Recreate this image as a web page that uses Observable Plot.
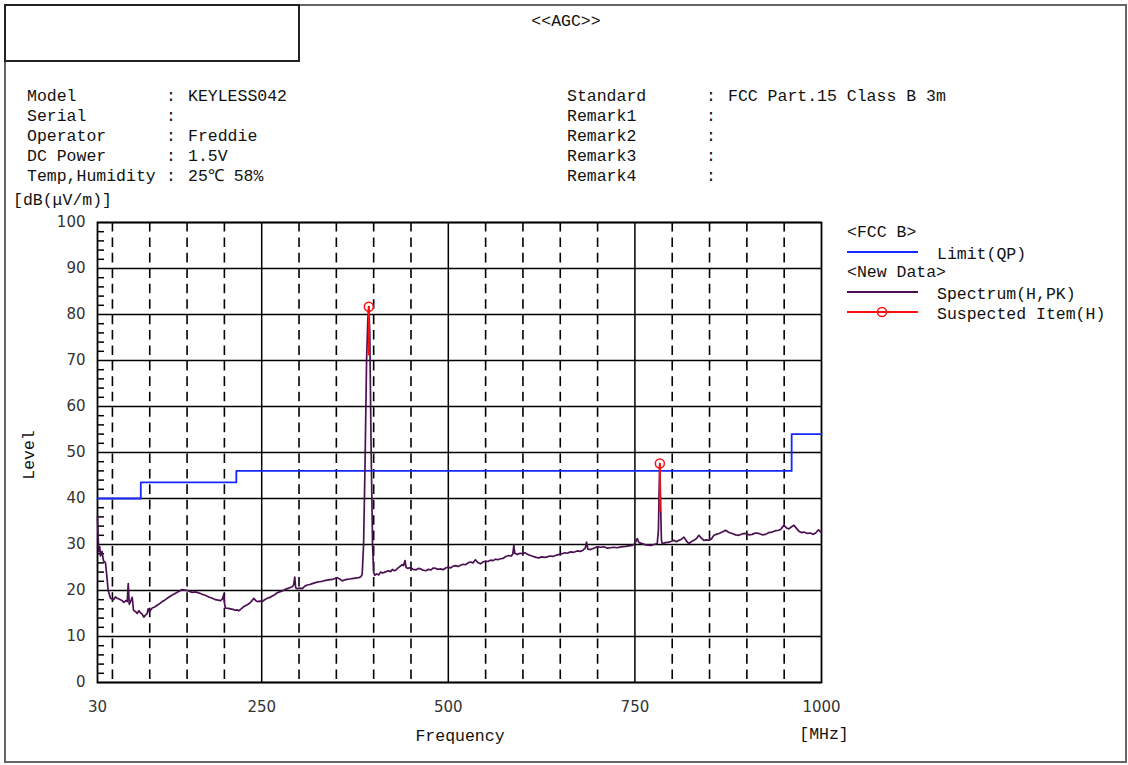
<!DOCTYPE html>
<html><head><meta charset="utf-8">
<script src="https://cdn.jsdelivr.net/npm/d3@7"></script>
<script src="https://cdn.jsdelivr.net/npm/@observablehq/plot@0.6"></script>
<style>
body{margin:0;background:#fff;}
#page{position:relative;width:1128px;height:765px;overflow:hidden;font-family:"Liberation Mono",monospace;font-size:16.5px;color:#111;}
.t{position:absolute;white-space:pre;line-height:20px;}
#chart{position:absolute;left:0;top:0;}
#outer{position:absolute;left:4px;top:4px;width:1119px;height:755px;border:2px solid #666;}
#box{position:absolute;left:4px;top:4px;width:292px;height:54px;border:2px solid #222;}
</style></head>
<body><div id="page">
<div id="chart"></div>
<div id="outer"></div>
<div id="box"></div>
<div id="texts"></div>
<svg id="legend" style="position:absolute;left:0;top:0" width="1128" height="765"></svg>
</div>
<script>
// ---------- data ----------
const infoLeftLabels = ["Model", "Serial", "Operator", "DC Power", "Temp,Humidity"];
const infoLeftValues = ["KEYLESS042", "", "Freddie", "1.5V", "25℃ 58%"];
const infoRightLabels = ["Standard", "Remark1", "Remark2", "Remark3", "Remark4"];
const infoRightValues = ["FCC Part.15 Class B 3m", "", "", "", ""];

const xTicks = [30, 250, 500, 750, 1000];
const yTicks = [0, 10, 20, 30, 40, 50, 60, 70, 80, 90, 100];
const xGridDashed = [50, 100, 150, 200, 300, 350, 400, 450, 550, 600, 650, 700, 800, 850, 900, 950];
const xGridSolid = [250, 500, 750];
const yMinor = [2,4,6,8,12,14,16,18,22,24,26,28,32,34,36,38,42,44,46,48,52,54,56,58,62,64,66,68,72,74,76,78,82,84,86,88,92,94,96,98];

// FCC Class B limit (QP), step after each break
const limitF = [30, 88, 216, 960, 1000];
const limitV = [40, 43.5, 46, 54, 54];

// Spectrum (H, PK)
const specF = [30,31,31.7,33,34,36,38,40.7,42,44.3,47.4,51.4,54,56.4,60.8,63,65.2,68,69.8,71.2,72.5,74.2,76.5,78.2,81,83.2,85.5,87.6,90,92,94,96.6,97.8,99.5,103.3,106.5,110,113,116.7,120,123.4,127,130.1,133.5,136.8,140,143.5,147,150.2,153.5,156.9,160,163.6,167,170.3,175,179.1,184,188.1,191.5,194.8,197.5,199.2,200.3,201.5,205,208.2,211.5,214.9,217,219.3,222.5,226,229.5,232.7,236,239.4,242,244,247.5,250.7,254,257.4,261,264.1,267.5,270.8,274,277.5,281,284.2,287.5,290.9,292.8,294.3,295.5,297.6,301,304.3,307.5,311,314.5,317.7,322,326.5,331,335.5,340,344.5,348,351.2,354.5,357.9,361,364.6,368,371.2,375.5,380.1,383,384.6,386.5,388.5,390.5,392.2,393.5,394.8,396.5,398.5,400,401.5,404,407,409.2,412,415,418,420,423,425,427.5,429.3,432,435,438,440,442,443.5,446,449.4,453,457,460,463,466.5,470,473.5,477,480,483,486.5,489.6,493,496.5,500,503,506.5,510,513,516.4,520,523,526.5,529.8,533,536.4,539.5,543.1,546.5,550,553,556.5,560,563,566.5,569.9,573.5,577,581,584.5,586.5,587.8,589,592.5,596,599,602.5,606,610.1,614,617.5,621.3,625,629,632.5,636,640,643.6,647.5,652.6,656,659.5,663.7,668,672.7,676.5,680,683.5,685.2,687,690.5,695,699.5,704,708.4,713,717.3,721.5,726.3,731.5,737.4,742,746.4,750,753.1,755.5,759.8,765,771,775.5,779.9,781.5,782.5,783.4,784.3,785.5,786.6,791,795.5,799,802.2,805.5,808.9,812,815.6,819,822.3,825.5,829,832.5,835.7,839,842.4,846,849.1,852.5,855.8,859,862.6,867,871.5,876,880.4,885,889.3,893.5,898.3,902.5,907.2,911.5,916.1,920.5,925.1,929.5,934,938.5,942.9,946,949.5,953,956.3,959.5,963,966.5,969.7,973,976.4,981,985.4,988.5,992.1,996,1000];
const specV = [36,31,28.5,29.5,27.5,28.5,26.5,26,24,20,18.3,18,18.6,18.3,18,17.8,17.4,17.8,17.6,21.5,17,17.6,18.5,15.7,15.4,15,15.6,15.2,14.8,14.2,14.6,15,16,15.4,16.2,16.4,16.8,17.1,17.6,17.9,18.3,18.7,19,19.3,19.6,19.9,20.2,20.1,20,19.8,19.6,19.7,19.6,19.4,19.2,18.9,18.6,18.3,18,17.9,17.8,18.2,19.2,17,16.2,16.1,16,15.9,15.7,15.8,15.6,16,16.5,16.8,17.1,17.6,18.3,17.8,17.6,17.7,17.6,18,18.3,18.5,18.8,19.1,19.5,19.7,19.9,20.2,20.4,20.6,20.8,21.2,22.9,20.6,20.4,20.5,20.4,20.9,21.2,21.3,21.5,21.7,21.9,22,22.2,22.3,22.4,22.6,22.8,22.5,22.1,22.3,22.4,22.5,22.6,22.7,22.8,23,23.5,30,48,70,79,81.7,76,52,30,24,23.3,23.6,23.4,24,23.8,24,24.2,24.3,24.1,24.6,24.3,24.4,24.8,25.2,25.6,25.4,26.5,25,24.8,25,24.6,24.5,24.8,24.7,24.4,24.3,24.6,24.5,24.9,24.8,24.6,24.7,24.5,24.9,25.1,24.9,25.3,25.4,25.2,25.5,25.7,25.6,26,26.2,26,26.7,26.1,25.8,26.2,26.4,26.3,26.6,26.5,26.8,26.7,26.9,27,27.4,27.6,27.5,28,29.8,28.1,27.8,28.1,28,28.2,27.9,27.6,27.4,27.2,27.1,27.3,27.2,27.3,27.5,27.4,27.6,27.8,28,28.2,28.1,28.4,28.3,28.6,28.5,28.7,29.2,30.5,29,28.9,29.2,29.5,29.4,29.5,29.2,29.3,29.4,29.3,29.5,29.6,29.7,29.8,30.2,31.3,30.4,30.2,29.9,29.8,30,30.2,33,42,47.6,40,31,30.2,30.4,30.5,30.7,30.9,30.6,30.9,31.1,31.6,30.8,30.2,30.6,30.9,31.3,32,31.4,30.9,31,30.9,31.2,32,32.2,32.4,32.7,33.1,32.6,32.4,32.1,32,32.3,32.4,32.1,32.2,32.5,32.4,32.1,32.2,32.6,32.7,33,33.1,33.4,34.2,33.6,33.4,33.8,34.2,33.5,32.9,32.6,32.7,32.4,32.5,32.2,32.5,33.2,32.6];

// Suspected items (H)
const suspF = [393.5, 783.4];
const suspV = [81.7, 47.6];
const suspLow = [71, 37];

// ---------- build tables ----------
const limit = limitF.map((f, i) => ({f, v: limitV[i]}));
const spectrum = specF.map((f, i) => ({f, v: specV[i]}));
const suspected = suspF.map((f, i) => ({f, v: suspV[i], low: suspLow[i]}));

const plot = Plot.plot({
  width: 1128, height: 765,
  marginLeft: 97, marginRight: 307, marginTop: 222, marginBottom: 83,
  x: {domain: [30, 1000], ticks: xTicks, tickFormat: d => String(d), tickSize: 0, tickPadding: 19, label: null},
  y: {domain: [0, 100], ticks: yTicks, tickFormat: d => String(d), tickSize: 0, tickPadding: 12, label: null},
  style: {fontFamily: "'DejaVu Sans', sans-serif", fontSize: "15px", color: "#333", background: "transparent"},
  marks: [
    Plot.ruleX(xGridDashed, {stroke: "#000", strokeWidth: 1.6, strokeDasharray: "9.6,5.83"}),
    Plot.ruleY(yTicks, {stroke: "#000", strokeWidth: 1.5}),
    Plot.ruleX(xGridSolid, {stroke: "#000", strokeWidth: 1.5}),
    Plot.tickY(yMinor, {stroke: "#000", strokeWidth: 1.5, insetRight: 717}),
    Plot.frame({stroke: "#000", strokeWidth: 1.8}),
    Plot.line(limit, {x: "f", y: "v", curve: "step-after", stroke: "#1428ff", strokeWidth: 1.8}),
    Plot.line(spectrum, {x: "f", y: "v", stroke: "#4a1052", strokeWidth: 1.7}),
    Plot.ruleX(suspected, {x: "f", y1: "low", y2: "v", stroke: "#ff1010", strokeWidth: 2}),
    Plot.dot(suspected, {x: "f", y: "v", r: 4.5, stroke: "#ff1010", strokeWidth: 1.5, fill: "none"})
  ]
});
document.getElementById("chart").append(plot);

// ---------- texts ----------
const T = document.getElementById("texts");
function txt(s, left, cy, extra) {
  const d = document.createElement("div");
  d.className = "t";
  d.textContent = s;
  d.style.left = left + "px";
  d.style.top = (cy - 10) + "px";
  if (extra) Object.assign(d.style, extra);
  T.append(d);
  return d;
}
txt("<<AGC>>", 566, 22, {transform: "translateX(-50%)"});
infoLeftLabels.forEach((s, i) => {
  const cy = 97 + i * 20;
  txt(s, 27, cy); txt(":", 166, cy); txt(infoLeftValues[i], 188, cy);
});
infoRightLabels.forEach((s, i) => {
  const cy = 97 + i * 20;
  txt(s, 567, cy); txt(":", 706, cy); txt(infoRightValues[i], 728, cy);
});
txt("[dB(μV/m)]", 13, 201);
txt("Level", 30, 455, {transform: "translate(-50%,0) rotate(-90deg)", transformOrigin: "50% 50%"});
txt("Frequency", 460, 737, {transform: "translateX(-50%)"});
txt("[MHz]", 824, 735, {transform: "translateX(-50%)"});

// legend
txt("<FCC B>", 847, 233);
txt("Limit(QP)", 937, 255);
txt("<New Data>", 847, 273);
txt("Spectrum(H,PK)", 937, 295);
txt("Suspected Item(H)", 937, 315);
const L = d3.select("#legend");
L.append("line").attr("x1", 847).attr("x2", 918).attr("y1", 252).attr("y2", 252).attr("stroke", "#1428ff").attr("stroke-width", 1.8);
L.append("line").attr("x1", 847).attr("x2", 918).attr("y1", 292).attr("y2", 292).attr("stroke", "#4a1052").attr("stroke-width", 1.8);
L.append("line").attr("x1", 847).attr("x2", 918).attr("y1", 312).attr("y2", 312).attr("stroke", "#ff1010").attr("stroke-width", 1.8);
L.append("circle").attr("cx", 882).attr("cy", 312).attr("r", 4.5).attr("fill", "none").attr("stroke", "#ff1010").attr("stroke-width", 1.5);
</script>
</body></html>
